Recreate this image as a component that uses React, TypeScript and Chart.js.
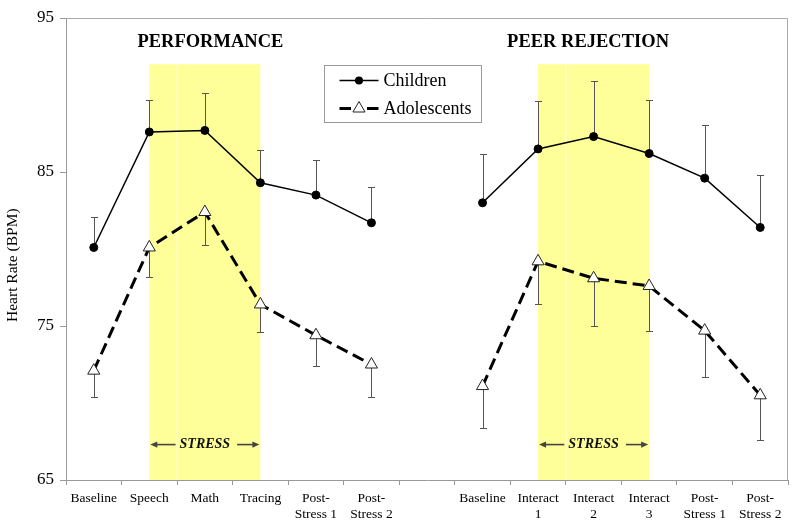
import React, { useEffect, useRef } from 'react';
import { Chart, registerables } from 'chart.js';

Chart.register(...registerables);

// ---- data ----
const categories: (string | string[])[] = [
  'Baseline', 'Speech', 'Math', 'Tracing', ['Post-', 'Stress 1'], ['Post-', 'Stress 2'],
  '',
  'Baseline', ['Interact', '1'], ['Interact', '2'], ['Interact', '3'], ['Post-', 'Stress 1'], ['Post-', 'Stress 2'],
];
const children = [80.1, 87.6, 87.7, 84.3, 83.5, 81.7, null, 83.0, 86.5, 87.3, 86.2, 84.6, 81.4];
const childrenSE = [2.0, 2.1, 2.45, 2.1, 2.25, 2.3, null, 3.2, 3.1, 3.6, 3.45, 3.45, 3.4];
const adolescents = [72.1, 80.1, 82.4, 76.4, 74.4, 72.5, null, 71.1, 79.2, 78.1, 77.6, 74.7, 70.5];
const adolescentsSE = [1.7, 1.9, 2.15, 1.8, 2.0, 2.1, null, 2.7, 2.8, 3.1, 2.95, 3.0, 2.9];
const seriesNames = ['Children', 'Adolescents'];
const yMin = 65;
const yMax = 95;
const yStep = 10;
const yTitle = 'Heart Rate (BPM)';
const yTitleValue = 78.95;
const panelTitles = ['PERFORMANCE', 'PEER REJECTION'];
const panelTitleAt = [2.1, 8.9];
const panelTitleValue = 93.45;
const stressSpans = [[1, 3], [8, 10]];
const stressTop = 92;
const stressLabel = 'STRESS';
const stressLabelValue = 67.3;

const SERIF = '"Liberation Serif", "Times New Roman", serif';

const overlayPlugin = {
  id: 'overlay',
  beforeDatasetsDraw(chart: any) {
    const { ctx, chartArea } = chart;
    const xs = chart.scales.x;
    const ys = chart.scales.y;
    ctx.save();
    // stress bands
    stressSpans.forEach(([a, b]) => {
      const x0 = xs.getPixelForValue(a);
      const x1 = xs.getPixelForValue(b);
      const yTop = ys.getPixelForValue(stressTop);
      ctx.fillStyle = '#FFFF99';
      ctx.fillRect(x0, yTop, x1 - x0, chartArea.bottom - yTop);
      const mid = xs.getPixelForValue(a + 0.5);
      ctx.fillStyle = 'rgba(255,255,215,0.7)';
      ctx.fillRect(mid - 0.75, yTop, 1.5, chartArea.bottom - yTop);
    });
    // chart area frame (top & right)
    ctx.strokeStyle = '#aaaaaa';
    ctx.lineWidth = 1;
    ctx.beginPath();
    ctx.moveTo(chartArea.left, chartArea.top + 0.5);
    ctx.lineTo(chartArea.right - 0.5, chartArea.top + 0.5);
    ctx.lineTo(chartArea.right - 0.5, chartArea.bottom);
    ctx.stroke();
    // y axis title
    ctx.save();
    ctx.translate(13, ys.getPixelForValue(yTitleValue));
    ctx.rotate(-Math.PI / 2);
    ctx.fillStyle = '#000';
    ctx.font = `15.5px ${SERIF}`;
    ctx.textAlign = 'center';
    ctx.textBaseline = 'middle';
    ctx.fillText(yTitle, 0, 0);
    ctx.restore();
    // titles
    ctx.fillStyle = '#000';
    ctx.font = `bold 18.5px ${SERIF}`;
    ctx.textAlign = 'center';
    ctx.textBaseline = 'middle';
    panelTitles.forEach((t, i) => {
      ctx.fillText(t, xs.getPixelForValue(panelTitleAt[i]), ys.getPixelForValue(panelTitleValue));
    });
    // stress labels with arrows
    ctx.font = `italic bold 14px ${SERIF}`;
    stressSpans.forEach(([a, b]) => {
      const x0 = xs.getPixelForValue(a);
      const x1 = xs.getPixelForValue(b);
      const cx = (x0 + x1) / 2;
      const cy = ys.getPixelForValue(stressLabelValue);
      ctx.fillStyle = '#111';
      ctx.fillText(stressLabel, cx, cy);
      const w = ctx.measureText(stressLabel).width;
      ctx.strokeStyle = '#444';
      ctx.fillStyle = '#444';
      ctx.lineWidth = 1.6;
      const drawArrow = (from: number, to: number) => {
        const dir = Math.sign(to - from);
        ctx.beginPath();
        ctx.moveTo(from, cy);
        ctx.lineTo(to - dir * 5, cy);
        ctx.stroke();
        ctx.beginPath();
        ctx.moveTo(to, cy);
        ctx.lineTo(to - dir * 7, cy - 3.2);
        ctx.lineTo(to - dir * 7, cy + 3.2);
        ctx.closePath();
        ctx.fill();
      };
      drawArrow(cx - w / 2 - 4, x0 + 1);
      drawArrow(cx + w / 2 + 7, x1 - 1);
    });
    // error bars
    const seArrays = [childrenSE, adolescentsSE];
    const dirs = [1, -1];
    chart.data.datasets.forEach((ds: any, di: number) => {
      const se = seArrays[di];
      ctx.strokeStyle = '#555';
      ctx.lineWidth = 1;
      ds.data.forEach((v: number | null, i: number) => {
        const e = se[i];
        if (v == null || e == null) return;
        const x = Math.round(xs.getPixelForValue(i)) + 0.5;
        const y0 = ys.getPixelForValue(v);
        const y1 = Math.round(ys.getPixelForValue(v + dirs[di] * e)) + 0.5;
        ctx.beginPath();
        ctx.moveTo(x, y0);
        ctx.lineTo(x, y1);
        ctx.moveTo(x - 3.5, y1);
        ctx.lineTo(x + 3.5, y1);
        ctx.stroke();
      });
    });
    ctx.restore();
  },
  afterDatasetsDraw(chart: any) {
    const { ctx, chartArea } = chart;
    ctx.save();
    const bx = chartArea.left + 258.5;
    const by = chartArea.top + 47.5;
    const bw = 157;
    const bh = 57;
    ctx.fillStyle = '#fff';
    ctx.fillRect(bx, by, bw, bh);
    ctx.strokeStyle = '#999';
    ctx.lineWidth = 1;
    ctx.strokeRect(bx, by, bw, bh);
    const lx0 = bx + 15;
    const lx1 = bx + 54;
    const mx = (lx0 + lx1) / 2;
    const y1 = by + 15;
    const y2 = by + 43;
    // Children
    ctx.strokeStyle = '#000';
    ctx.lineWidth = 1.5;
    ctx.beginPath();
    ctx.moveTo(lx0, y1);
    ctx.lineTo(lx1, y1);
    ctx.stroke();
    ctx.fillStyle = '#000';
    ctx.beginPath();
    ctx.arc(mx, y1, 4, 0, Math.PI * 2);
    ctx.fill();
    // Adolescents
    ctx.lineWidth = 3;
    ctx.beginPath();
    ctx.moveTo(lx0, y2);
    ctx.lineTo(mx - 8, y2);
    ctx.moveTo(mx + 8, y2);
    ctx.lineTo(lx1, y2);
    ctx.stroke();
    ctx.lineWidth = 1;
    ctx.fillStyle = '#fff';
    ctx.strokeStyle = '#222';
    const r = 7;
    ctx.beginPath();
    ctx.moveTo(mx, y2 - r);
    ctx.lineTo(mx + r * 0.866, y2 + r * 0.5);
    ctx.lineTo(mx - r * 0.866, y2 + r * 0.5);
    ctx.closePath();
    ctx.fill();
    ctx.stroke();
    ctx.fillStyle = '#000';
    ctx.font = `18px ${SERIF}`;
    ctx.textAlign = 'left';
    ctx.textBaseline = 'middle';
    ctx.fillText(seriesNames[0], lx1 + 5, y1 + 1);
    ctx.fillText(seriesNames[1], lx1 + 5, y2 + 1);
    ctx.restore();
  },
};

export default function App() {
  const canvasRef = useRef<HTMLCanvasElement | null>(null);

  useEffect(() => {
    if (!canvasRef.current) return;
    const chart = new Chart(canvasRef.current, {
      type: 'line',
      data: {
        labels: categories as any,
        datasets: [
          {
            label: seriesNames[0],
            data: children as any,
            borderColor: '#000',
            borderWidth: 1.5,
            pointRadius: 4,
            pointBackgroundColor: '#000',
            pointBorderColor: '#000',
            pointBorderWidth: 1,
            spanGaps: false,
            tension: 0,
          },
          {
            label: seriesNames[1],
            data: adolescents as any,
            borderColor: '#000',
            borderWidth: 3,
            borderDash: [12, 6],
            pointStyle: 'triangle',
            pointRadius: 7,
            pointBackgroundColor: '#fff',
            pointBorderColor: '#222',
            pointBorderWidth: 1,
            spanGaps: false,
            tension: 0,
          },
        ],
      },
      options: {
        responsive: false,
        animation: false,
        devicePixelRatio: 1,
        layout: { padding: { top: 18, right: 12, left: 0, bottom: 0 } },
        plugins: {
          legend: { display: false },
          tooltip: { enabled: false },
        },
        scales: {
          x: {
            type: 'category',
            offset: true,
            grid: {
              offset: true,
              drawOnChartArea: false,
              drawTicks: true,
              tickLength: 5,
              color: '#999',
            },
            border: { color: '#999' },
            ticks: {
              color: '#000',
              font: { family: SERIF, size: 13.5 },
              maxRotation: 0,
              autoSkip: false,
              padding: 5,
            },
            afterFit(scale: any) {
              scale.height = 51;
            },
          },
          y: {
            min: yMin,
            max: yMax,
            grid: {
              drawOnChartArea: false,
              drawTicks: true,
              tickLength: 6,
              color: '#999',
            },
            border: { color: '#999' },
            ticks: {
              stepSize: yStep,
              color: '#000',
              font: { family: SERIF, size: 17 },
              padding: 6,
            },
            afterFit(scale: any) {
              scale.width = 66;
            },
          },
        },
      },
      plugins: [overlayPlugin],
    });
    return () => chart.destroy();
  }, []);

  return (
    <div style={{ position: 'absolute', left: 0, top: 0, width: 800, height: 531, background: '#fff' }}>
      <canvas ref={canvasRef} width={800} height={531} style={{ display: 'block' }} />
    </div>
  );
}
